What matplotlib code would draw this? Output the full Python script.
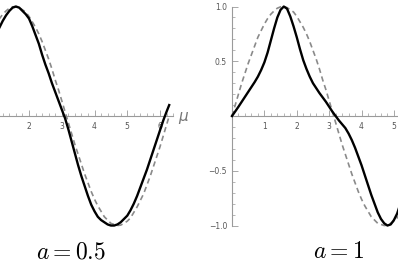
import matplotlib
matplotlib.use("Agg")
import matplotlib.pyplot as plt
from matplotlib.ticker import MultipleLocator, FixedLocator

plt.rcParams["mathtext.fontset"] = "cm"

# values (mu on the horizontal axis)
mu = [0.0, 0.1, 0.2, 0.3, 0.4, 0.5, 0.6, 0.7, 0.8, 0.9,
      1.0, 1.1, 1.2, 1.3, 1.4, 1.5, 1.6, 1.7, 1.8, 1.9,
      2.0, 2.1, 2.2, 2.3, 2.4, 2.5, 2.6, 2.7, 2.8, 2.9,
      3.0, 3.1, 3.2, 3.3, 3.4, 3.5, 3.6, 3.7, 3.8, 3.9,
      4.0, 4.1, 4.2, 4.3, 4.4, 4.5, 4.6, 4.7, 4.8, 4.9,
      5.0, 5.1, 5.2, 5.3, 5.4, 5.5, 5.6, 5.7, 5.8, 5.9,
      6.0, 6.1, 6.2, 6.28]

# grey dashed reference curve
ref_sine = [0.0, 0.10, 0.20, 0.30, 0.39, 0.48, 0.56, 0.64, 0.72, 0.78,
            0.84, 0.89, 0.93, 0.96, 0.985, 0.997, 1.0, 0.99, 0.97, 0.95,
            0.91, 0.86, 0.81, 0.75, 0.68, 0.60, 0.52, 0.43, 0.33, 0.24,
            0.14, 0.04, -0.06, -0.16, -0.26, -0.35, -0.44, -0.53, -0.61, -0.69,
            -0.76, -0.82, -0.87, -0.92, -0.95, -0.98, -0.99, -1.0, -0.996, -0.98,
            -0.96, -0.93, -0.88, -0.83, -0.77, -0.71, -0.63, -0.55, -0.46, -0.37,
            -0.28, -0.18, -0.08, 0.0]

# black curve, a = 0.5
curve_a05 = [0.0, 0.08, 0.16, 0.24, 0.32, 0.40, 0.48, 0.55, 0.62, 0.69,
             0.75, 0.81, 0.87, 0.92, 0.96, 0.99, 1.0, 0.99, 0.96, 0.93,
             0.89, 0.82, 0.74, 0.66, 0.56, 0.47, 0.39, 0.30, 0.22, 0.14,
             0.06, -0.02, -0.12, -0.23, -0.34, -0.45, -0.55, -0.64, -0.73, -0.81,
             -0.87, -0.92, -0.95, -0.97, -0.99, -1.0, -1.0, -0.99, -0.97, -0.94,
             -0.91, -0.86, -0.80, -0.73, -0.65, -0.57, -0.49, -0.40, -0.31, -0.22,
             -0.13, -0.04, 0.04, 0.10]

# black curve, a = 1
curve_a1 = [0.0, 0.042, 0.085, 0.13, 0.175, 0.22, 0.265, 0.31, 0.36, 0.42,
            0.49, 0.58, 0.69, 0.80, 0.90, 0.97, 1.0, 0.98, 0.91, 0.82,
            0.72, 0.61, 0.51, 0.43, 0.36, 0.30, 0.255, 0.21, 0.17, 0.13,
            0.085, 0.04, 0.0, -0.04, -0.075, -0.11, -0.16, -0.22, -0.29, -0.37,
            -0.45, -0.54, -0.63, -0.72, -0.80, -0.88, -0.94, -0.98, -1.0, -0.99,
            -0.95, -0.89, -0.80, -0.71, -0.62, -0.54, -0.47, -0.40, -0.33, -0.26,
            -0.19, -0.12, -0.05, 0.0]

x_ticks = [1, 2, 3, 4, 5, 6]
y_ticks = [-1.0, -0.5, 0.5, 1.0]
# left panel: its y axis and the "1" sit off the cropped picture
x_labels = [["", "2", "3", "4", "5", "6"], ["1", "2", "3", "4", "5", ""]]
y_labels = [["", "", "", ""], ["\u22121.0", "\u22120.5", "0.5", "1.0"]]
titles = ["$a=0.5$", "$a=1$"]

fig = plt.figure(figsize=(3.98, 2.65), dpi=100)
fig.patch.set_facecolor("white")

axis_grey = "#9a9a9a"
label_grey = "#555555"

positions = [
    [-0.0917, 0.1283, 0.5308, 0.8677],
    [0.5788, 0.1283, 0.5290, 0.8677],
]
xlims = [(0.0, 6.45), (-0.05, 6.45)]
title_x = [0.178, 0.851]

for i, solid in enumerate([curve_a05, curve_a1]):
    ax = fig.add_axes(positions[i])
    ax.set_xlim(*xlims[i])
    ax.set_ylim(-1.05, 1.05)
    ax.patch.set_alpha(0)

    ax.plot(mu, ref_sine, color="#8a8a8a", lw=1.2, linestyle=(0, (3.2, 2.2)), zorder=3)
    ax.plot(mu, solid, color="black", lw=1.7, zorder=4, solid_joinstyle="round")

    for side in ["top", "right"]:
        ax.spines[side].set_visible(False)
    ax.spines["bottom"].set_position(("data", 0))
    ax.spines["left"].set_position(("data", 0))
    ax.spines["bottom"].set_bounds(0, 6.4)
    ax.spines["left"].set_bounds(-1.0, 1.0)
    for side in ["bottom", "left"]:
        ax.spines[side].set_color(axis_grey)
        ax.spines[side].set_linewidth(0.8)

    ax.xaxis.set_major_locator(FixedLocator(x_ticks))
    ax.xaxis.set_minor_locator(MultipleLocator(0.2))
    ax.set_xticklabels(x_labels[i])
    ax.yaxis.set_major_locator(FixedLocator(y_ticks))
    ax.yaxis.set_minor_locator(MultipleLocator(0.1))
    ax.set_yticklabels(y_labels[i])

    ax.tick_params(axis="x", which="major", direction="in", length=4, width=0.6,
                   color=axis_grey, labelsize=5.5, labelcolor=label_grey, pad=4.5)
    ax.tick_params(axis="x", which="minor", direction="in", length=2.2, width=0.5, color=axis_grey)
    ax.tick_params(axis="y", which="major", direction="in", length=4, width=0.6,
                   color=axis_grey, labelsize=5.5, labelcolor=label_grey, pad=3.5)
    ax.tick_params(axis="y", which="minor", direction="in", length=2.2, width=0.5, color=axis_grey)

    if i == 0:
        ax.text(6.55, 0.0, "\u03bc", style="italic", fontsize=11, color="#777777",
                ha="left", va="center")

    fig.text(title_x[i], 0.025, titles[i], fontsize=17, ha="center", va="baseline")

fig.savefig("out.png", dpi=100)
